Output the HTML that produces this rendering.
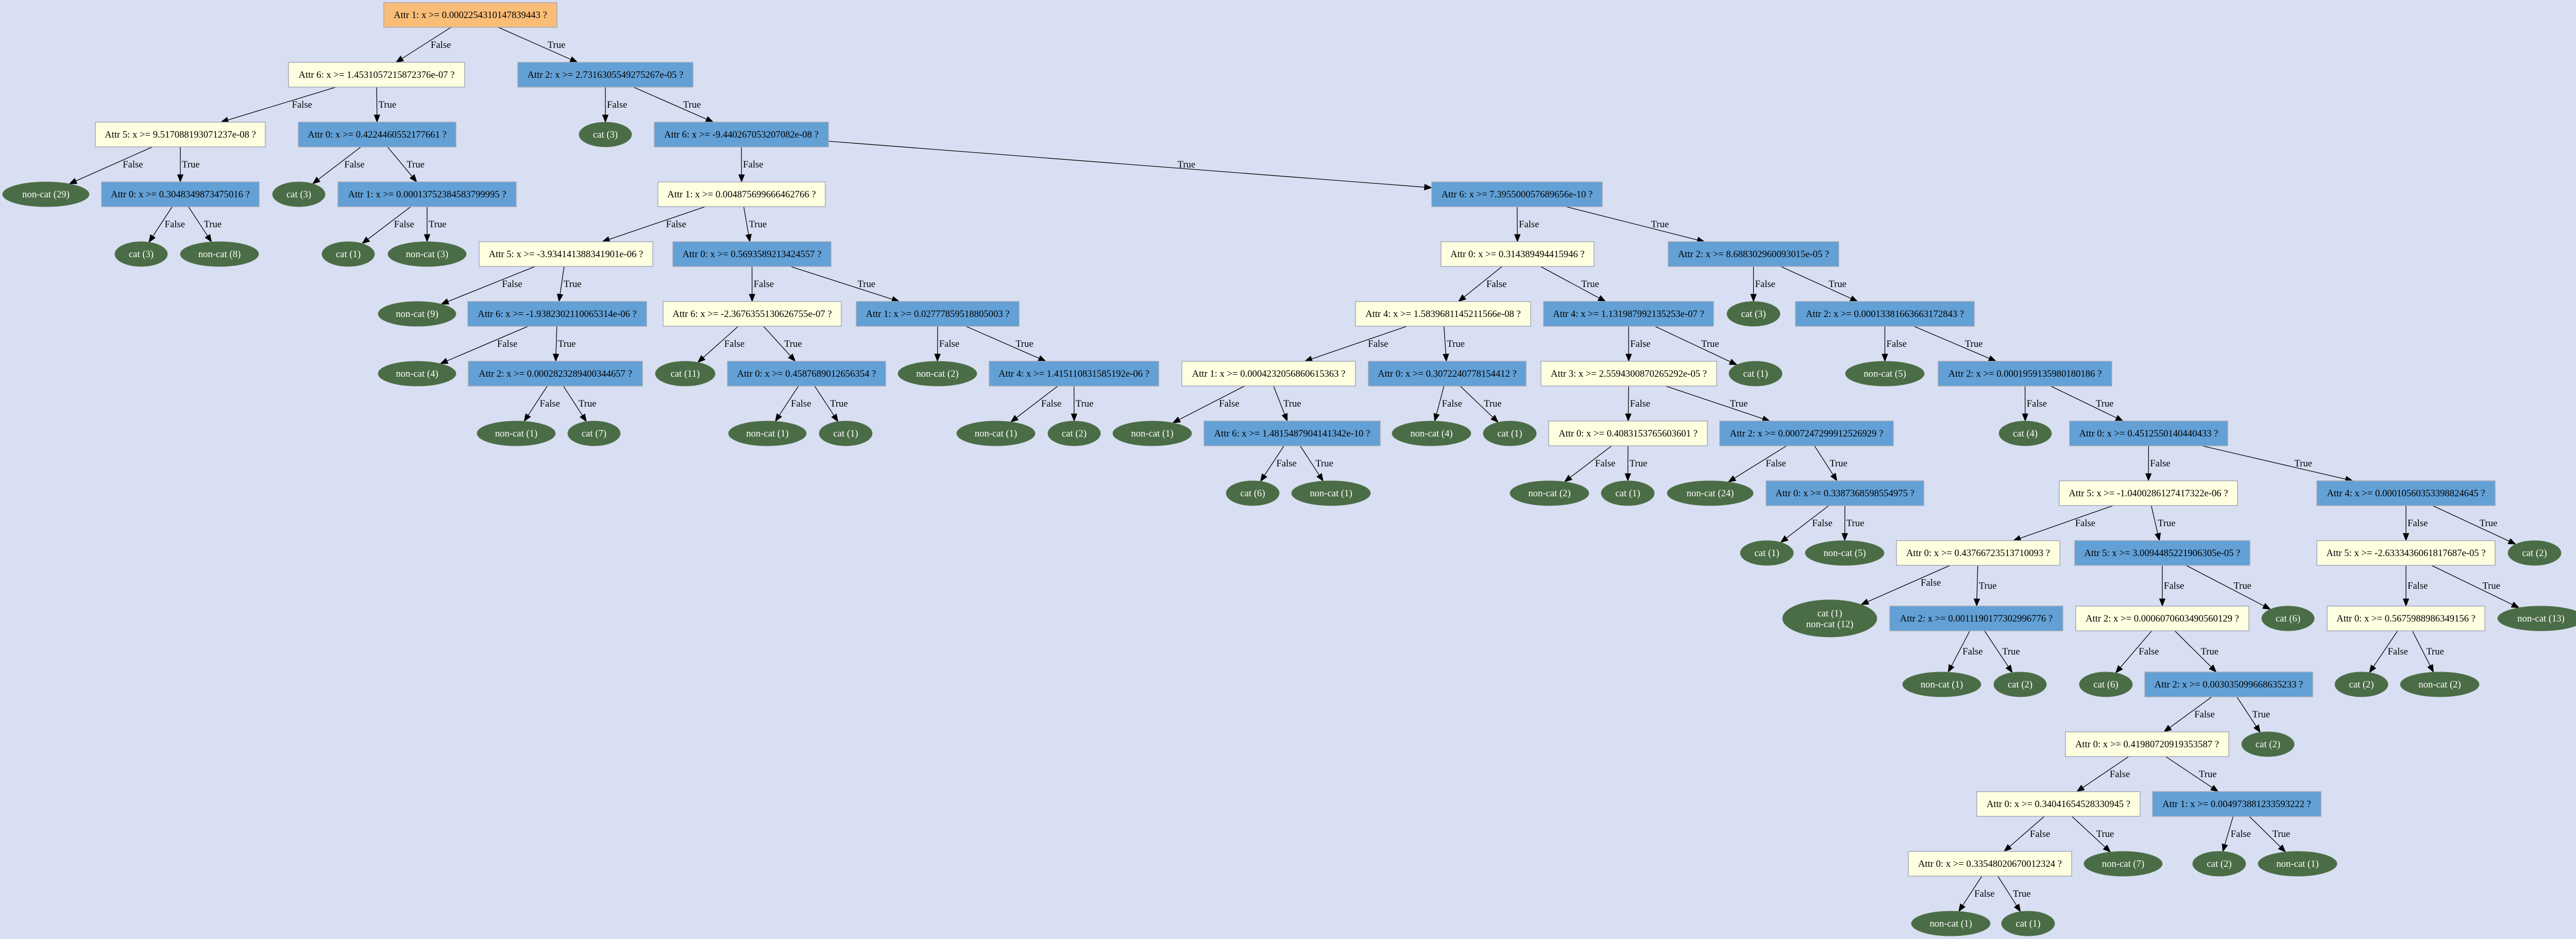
<!DOCTYPE html>
<html><head><meta charset="utf-8">
<style>
html,body{margin:0;padding:0;background:#d9dff2;}
svg{display:block;}
text{font-family:"Liberation Serif","Times New Roman",serif;font-size:18.67px;}
</style></head>
<body>
<svg id="g" xmlns="http://www.w3.org/2000/svg" width="5021" height="1822" viewBox="0 0 5021 1822"></svg>
<script>
var N=[
["O","Attr 1: x >= 0.0002254310147839443 ?",745,1081,0],
["Y","Attr 6: x >= 1.4531057215872376e-07 ?",560,902,1],
["B","Attr 2: x >= 2.7316305549275267e-05 ?",1005,1345,1],
["Y","Attr 5: x >= 9.517088193071237e-08 ?",185,515,2],
["B","Attr 0: x >= 0.4224460552177661 ?",579,885,2],
["L","cat (3)",1124,1226,2],
["B","Attr 6: x >= -9.440267053207082e-08 ?",1270,1608,2],
["L","non-cat (29)",5,173,3],
["B","Attr 0: x >= 0.3048349873475016 ?",197,503,3],
["L","cat (3)",529,631,3],
["B","Attr 1: x >= 0.00013752384583799995 ?",656,1002,3],
["Y","Attr 1: x >= 0.004875699666462766 ?",1277,1602,3],
["B","Attr 6: x >= 7.395500057689656e-10 ?",2779,3110,3],
["L","cat (3)",223,325,4],
["L","non-cat (8)",350,502,4],
["L","cat (1)",625,727,4],
["L","non-cat (3)",753,905,4],
["Y","Attr 5: x >= -3.934141388341901e-06 ?",930,1267,4],
["B","Attr 0: x >= 0.5693589213424557 ?",1306,1613,4],
["Y","Attr 0: x >= 0.314389494415946 ?",2797,3094,4],
["B","Attr 2: x >= 8.688302960093015e-05 ?",3238,3569,4],
["L","non-cat (9)",734,885,5],
["B","Attr 6: x >= -1.9382302110065314e-06 ?",908,1255,5],
["Y","Attr 6: x >= -2.3676355130626755e-07 ?",1287,1633,5],
["B","Attr 1: x >= 0.02777859518805003 ?",1662,1978,5],
["Y","Attr 4: x >= 1.5839681145211566e-08 ?",2631,2971,5],
["B","Attr 4: x >= 1.131987992135253e-07 ?",2996,3326,5],
["L","cat (3)",3352,3455,5],
["B","Attr 2: x >= 0.00013381663663172843 ?",3485,3832,5],
["L","non-cat (4)",734,885,6],
["B","Attr 2: x >= 0.0002823289400344657 ?",909,1247,6],
["L","cat (11)",1272,1388,6],
["B","Attr 0: x >= 0.4587689012656354 ?",1412,1719,6],
["L","non-cat (2)",1743,1896,6],
["B","Attr 4: x >= 1.415110831585192e-06 ?",1920,2249,6],
["Y","Attr 1: x >= 0.0004232056860615363 ?",2294,2631,6],
["B","Attr 0: x >= 0.3072240778154412 ?",2656,2962,6],
["Y","Attr 3: x >= 2.5594300870265292e-05 ?",2991,3332,6],
["L","cat (1)",3356,3459,6],
["L","non-cat (5)",3582,3735,6],
["B","Attr 2: x >= 0.0001959135980180186 ?",3762,4099,6],
["L","non-cat (1)",926,1078,7],
["L","cat (7)",1102,1204,7],
["L","non-cat (1)",1414,1565,7],
["L","cat (1)",1590,1693,7],
["L","non-cat (1)",1857,2009,7],
["L","cat (2)",2034,2136,7],
["L","non-cat (1)",2160,2313,7],
["B","Attr 6: x >= 1.4815487904141342e-10 ?",2337,2679,7],
["L","non-cat (4)",2702,2855,7],
["L","cat (1)",2879,2982,7],
["Y","Attr 0: x >= 0.4083153765603601 ?",3006,3314,7],
["B","Attr 2: x >= 0.0007247299912526929 ?",3338,3675,7],
["L","cat (4)",3880,3982,7],
["B","Attr 0: x >= 0.4512550140440433 ?",4017,4324,7],
["L","cat (6)",2380,2483,8],
["L","non-cat (1)",2507,2660,8],
["L","non-cat (2)",2931,3084,8],
["L","cat (1)",3108,3211,8],
["L","non-cat (24)",3236,3403,8],
["B","Attr 0: x >= 0.3387368598554975 ?",3428,3734,8],
["Y","Attr 5: x >= -1.0400286127417322e-06 ?",3997,4343,8],
["B","Attr 4: x >= 0.00010560353398824645 ?",4497,4843,8],
["L","cat (1)",3378,3481,9],
["L","non-cat (5)",3504,3657,9],
["Y","Attr 0: x >= 0.43766723513710093 ?",3681,3998,9],
["B","Attr 5: x >= 3.0094485221906305e-05 ?",4027,4367,9],
["Y","Attr 5: x >= -2.6333436061817687e-05 ?",4497,4843,9],
["L","cat (2)",4868,4971,9],
["L2","cat (1)|non-cat (12)",3460,3643,10],
["B","Attr 2: x >= 0.0011190177302996776 ?",3668,4004,10],
["Y","Attr 2: x >= 0.0006070603490560129 ?",4029,4365,10],
["L","cat (6)",4390,4492,10],
["Y","Attr 0: x >= 0.5675988986349156 ?",4517,4823,10],
["L","non-cat (13)",4848,5016,10],
["L","non-cat (1)",3693,3845,11],
["L","cat (2)",3870,3972,11],
["L","cat (6)",4036,4139,11],
["B","Attr 2: x >= 0.003035099668635233 ?",4163,4489,11],
["L","cat (2)",4532,4635,11],
["L","non-cat (2)",4659,4812,11],
["Y","Attr 0: x >= 0.41980720919353587 ?",4009,4326,12],
["L","cat (2)",4351,4453,12],
["Y","Attr 0: x >= 0.34041654528330945 ?",3837,4154,13],
["B","Attr 1: x >= 0.004973881233593222 ?",4178,4505,13],
["Y","Attr 0: x >= 0.33548020670012324 ?",3704,4021,14],
["L","non-cat (7)",4045,4197,14],
["L","cat (2)",4256,4359,14],
["L","non-cat (1)",4383,4536,14],
["L","non-cat (1)",3710,3863,15],
["L","cat (1)",3885,3988,15]
];
var E=[[0,1],[0,2],[1,3],[1,4],[2,5],[2,6],[3,7],[3,8],[4,9],[4,10],[6,11],[6,12],[8,13],[8,14],[10,15],[10,16],[11,17],[11,18],[12,19],[12,20],[17,21],[17,22],[18,23],[18,24],[19,25],[19,26],[20,27],[20,28],[22,29],[22,30],[23,31],[23,32],[24,33],[24,34],[25,35],[25,36],[26,37],[26,38],[28,39],[28,40],
[30,41],[30,42],[32,43],[32,44],[34,45],[34,46],[35,47],[35,48],[36,49],[36,50],[37,51],[37,52],[40,53],[40,54],
[48,55],[48,56],[51,57],[51,58],[52,59],[52,60],[54,61],[54,62],
[60,63],[60,64],[61,65],[61,66],[62,67],[62,68],
[65,69],[65,70],[66,71],[66,72],[67,73],[67,74],
[70,75],[70,76],[71,77],[71,78],[73,79],[73,80],
[78,81],[78,82],[81,83],[81,84],[83,85],[83,86],[84,87],[84,88],[85,89],[85,90]];
function rowY(r){if(r<=9)return 29+116*r;if(r==10)return 1200;return 1328+116*(r-11);}
var FILL={O:"#f9bd78",Y:"#fefee0",B:"#62a0d6",L:"#4a6c46",L2:"#4a6c46"};
var s="";
var nd=N.map(function(n){var cx=(n[2]+n[3])/2,cy=rowY(n[4]);return {t:n[0],txt:n[1],cx:cx,cy:cy,hw:(n[3]-n[2])/2,hh:(n[0]=="L2"?36:24)};});
function clip(n,dx,dy){var t;if(n.t=="L"||n.t=="L2"){t=1/Math.sqrt((dx/n.hw)*(dx/n.hw)+(dy/n.hh)*(dy/n.hh));}else{var a=Math.abs(dx)>1e-9?n.hw/Math.abs(dx):1e9;var b=Math.abs(dy)>1e-9?n.hh/Math.abs(dy):1e9;t=Math.min(a,b);}return [n.cx+dx*t,n.cy+dy*t];}
E.forEach(function(e,i){var p=nd[e[0]],c=nd[e[1]];var dx=c.cx-p.cx,dy=c.cy-p.cy;
var a=clip(p,dx,dy),b=clip(c,-dx,-dy);var L=Math.hypot(b[0]-a[0],b[1]-a[1]);var ux=(b[0]-a[0])/L,uy=(b[1]-a[1])/L;
var al=14,aw=5.5;var bx=b[0]-ux*al,by=b[1]-uy*al;
s+='<line x1="'+a[0].toFixed(1)+'" y1="'+a[1].toFixed(1)+'" x2="'+bx.toFixed(1)+'" y2="'+by.toFixed(1)+'" stroke="#000" stroke-width="1.3"/>';
s+='<polygon points="'+b[0].toFixed(1)+','+b[1].toFixed(1)+' '+(bx-uy*aw).toFixed(1)+','+(by+ux*aw).toFixed(1)+' '+(bx+uy*aw).toFixed(1)+','+(by-ux*aw).toFixed(1)+'" fill="#000" stroke="#000" stroke-width="1"/>';
var ly=(p.cy+p.hh+c.cy-c.hh)/2;var slope=dx/dy;var xl=p.cx+slope*(ly-p.cy);
var lx=xl+7*Math.abs(slope)+3;
var lab=(i%2==0)?"False":"True";
s+='<text x="'+lx.toFixed(1)+'" y="'+(ly+6).toFixed(1)+'" fill="#000">'+lab+'</text>';});
nd.forEach(function(n){
if(n.t=="L"||n.t=="L2"){s+='<ellipse cx="'+n.cx+'" cy="'+n.cy+'" rx="'+n.hw+'" ry="'+n.hh+'" fill="'+FILL[n.t]+'" stroke="#5a7a56" stroke-width="1"/>';
var parts=n.txt.split("|");if(parts.length==1){s+='<text x="'+n.cx+'" y="'+(n.cy+6)+'" fill="#fff" text-anchor="middle">'+parts[0]+'</text>';}
else{s+='<text x="'+n.cx+'" y="'+(n.cy-4)+'" fill="#fff" text-anchor="middle">'+parts[0]+'</text><text x="'+n.cx+'" y="'+(n.cy+17)+'" fill="#fff" text-anchor="middle">'+parts[1]+'</text>';}}
else{s+='<rect x="'+(n.cx-n.hw)+'" y="'+(n.cy-24)+'" width="'+(2*n.hw)+'" height="48" fill="'+FILL[n.t]+'" stroke="#a3a9b8" stroke-width="1.5"/>';
var t=n.txt.replace(/&/g,"&amp;").replace(/>/g,"&gt;").replace(/</g,"&lt;");
s+='<text x="'+n.cx+'" y="'+(n.cy+6)+'" fill="#000" text-anchor="middle">'+t+'</text>';}});
document.getElementById("g").innerHTML=s;
</script>
</body></html>
